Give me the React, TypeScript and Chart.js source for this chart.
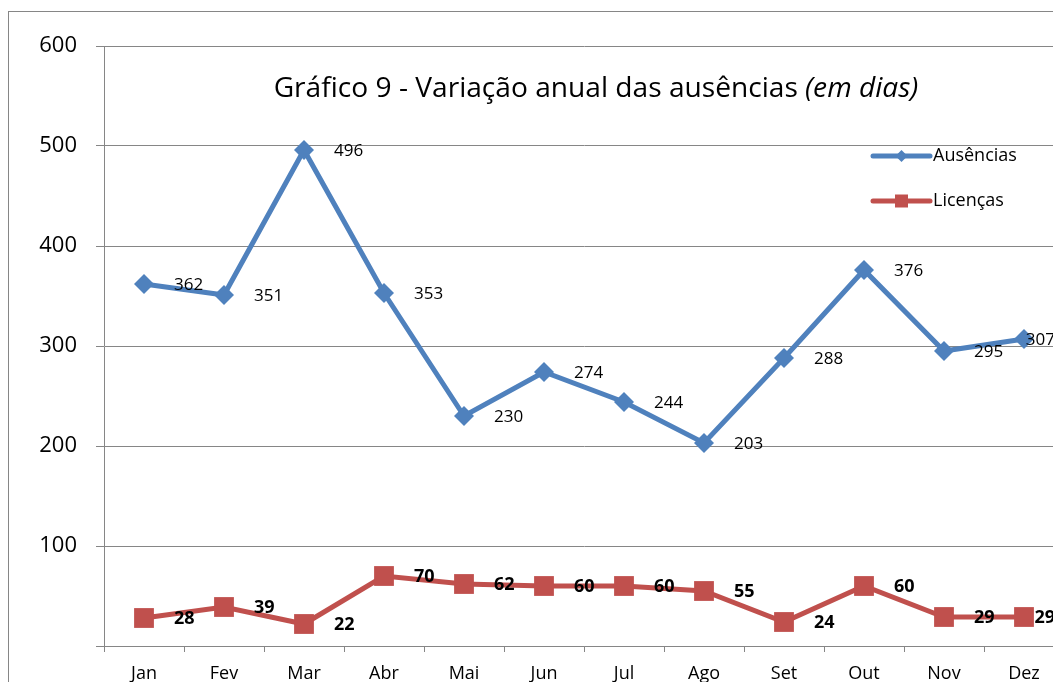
import React, { useEffect, useRef } from 'react';
import { Chart, registerables } from 'chart.js';

Chart.register(...registerables);

const months = ['Jan', 'Fev', 'Mar', 'Abr', 'Mai', 'Jun', 'Jul', 'Ago', 'Set', 'Out', 'Nov', 'Dez'];
const ausencias = [362, 351, 496, 353, 230, 274, 244, 203, 288, 376, 295, 307];
const licencas = [28, 39, 22, 70, 62, 60, 60, 55, 24, 60, 29, 29];
const seriesNames = ['Ausências', 'Licenças'];
const yMin = 0;
const yMax = 600;
const yStep = 100;
const titleMain = 'Gráfico 9 - Variação anual das ausências ';
const titleItalic = '(em dias)';

const FONT = '"Open Sans", "Noto Sans", sans-serif';
const BLUE = '#4F81BD';
const RED = '#C0504D';
const GRID = '#868686';

const titlePlugin = {
  id: 'customTitle',
  afterDraw(chart: any) {
    const { ctx, chartArea } = chart;
    ctx.save();
    let size = 26;
    const measure = (s: number) => {
      ctx.font = `${s}px ${FONT}`;
      const a = ctx.measureText(titleMain).width;
      ctx.font = `italic ${s}px ${FONT}`;
      const b = ctx.measureText(titleItalic).width;
      return [a, b];
    };
    let [w1, w2] = measure(size);
    size = size * 645 / (w1 + w2);
    [w1, w2] = measure(size);
    const cx = chartArea.left + chartArea.width * 0.5125;
    const x0 = cx - (w1 + w2) / 2;
    const y = chartArea.top + 51;
    ctx.fillStyle = '#000';
    ctx.textBaseline = 'alphabetic';
    ctx.textAlign = 'left';
    ctx.font = `${size}px ${FONT}`;
    ctx.fillText(titleMain, x0, y);
    ctx.font = `italic ${size}px ${FONT}`;
    ctx.fillText(titleItalic, x0 + w1, y);
    ctx.restore();
  },
};

const legendPlugin = {
  id: 'customLegend',
  afterDraw(chart: any) {
    const { ctx, chartArea } = chart;
    ctx.save();
    const x0 = chartArea.left + 769;
    const x1 = x0 + 57;
    const rows = [
      { y: chartArea.top + 110, color: BLUE, shape: 'diamond', label: seriesNames[0] },
      { y: chartArea.top + 155, color: RED, shape: 'square', label: seriesNames[1] },
    ];
    rows.forEach((r) => {
      ctx.strokeStyle = r.color;
      ctx.lineWidth = 5;
      ctx.lineCap = 'round';
      ctx.beginPath();
      ctx.moveTo(x0, r.y);
      ctx.lineTo(x1, r.y);
      ctx.stroke();
      ctx.fillStyle = r.color;
      const cx = (x0 + x1) / 2;
      ctx.beginPath();
      if (r.shape === 'diamond') {
        const s = 6;
        ctx.moveTo(cx - s, r.y);
        ctx.lineTo(cx, r.y - s);
        ctx.lineTo(cx + s, r.y);
        ctx.lineTo(cx, r.y + s);
        ctx.closePath();
      } else {
        ctx.rect(cx - 6.5, r.y - 6.5, 13, 13);
      }
      ctx.fill();
      ctx.fillStyle = '#000';
      ctx.font = `18px ${FONT}`;
      ctx.textBaseline = 'middle';
      ctx.textAlign = 'left';
      ctx.fillText(r.label, x1 + 3, r.y);
    });
    ctx.restore();
  },
};

const labelsPlugin = {
  id: 'pointLabels',
  afterDatasetsDraw(chart: any) {
    const { ctx, chartArea } = chart;
    ctx.save();
    ctx.fillStyle = '#000';
    ctx.textBaseline = 'middle';
    ctx.textAlign = 'left';
    const limit = chartArea.right - 9;
    chart.data.datasets.forEach((ds: any, i: number) => {
      const meta = chart.getDatasetMeta(i);
      ctx.font = i === 0 ? `17px ${FONT}` : `bold 18px ${FONT}`;
      meta.data.forEach((pt: any, j: number) => {
        const txt = String(ds.data[j]);
        const w = ctx.measureText(txt).width;
        const x = Math.min(pt.x + 30, limit - w);
        ctx.fillText(txt, x, pt.y + 1);
      });
    });
    ctx.restore();
  },
};

export default function App() {
  const ref = useRef<HTMLCanvasElement>(null);

  useEffect(() => {
    if (!ref.current) return;
    const chart = new Chart(ref.current, {
      type: 'line',
      data: {
        labels: months,
        datasets: [
          {
            label: seriesNames[0],
            data: ausencias,
            borderColor: BLUE,
            backgroundColor: BLUE,
            borderWidth: 5,
            pointStyle: 'rectRot',
            pointRadius: 10,
            pointBorderWidth: 0,
            tension: 0,
          },
          {
            label: seriesNames[1],
            data: licencas,
            borderColor: RED,
            backgroundColor: RED,
            borderWidth: 5,
            pointStyle: 'rect',
            pointRadius: 14,
            pointBorderWidth: 0,
            tension: 0,
          },
        ],
      },
      options: {
        responsive: false,
        animation: false,
        layout: { padding: { top: 34, right: 20, left: 0, bottom: 0 } },
        plugins: {
          legend: { display: false },
          title: { display: false },
          tooltip: { enabled: false },
        },
        scales: {
          x: {
            offset: true,
            grid: {
              display: true,
              drawOnChartArea: false,
              drawTicks: true,
              tickLength: 6,
              color: GRID,
              offset: true,
            },
            border: { display: true, color: GRID, width: 1 },
            ticks: {
              color: '#000',
              font: { family: FONT, size: 18 },
              padding: 11,
              maxRotation: 0,
              autoSkip: false,
            },
            afterFit: (s: any) => {
              s.height = 66;
            },
          },
          y: {
            min: yMin,
            max: yMax,
            grid: { color: GRID, tickLength: 8, drawTicks: true },
            border: { display: true, color: GRID, width: 1 },
            ticks: {
              stepSize: yStep,
              color: '#000',
              font: { family: FONT, size: 22 },
              padding: 19,
              callback: (v: any) => (v === 0 ? '' : String(v)),
            },
            afterFit: (s: any) => {
              s.width = 95;
            },
          },
        },
      },
      plugins: [labelsPlugin, titlePlugin, legendPlugin],
    });
    return () => chart.destroy();
  }, []);

  return (
    <div
      style={{
        position: 'fixed',
        left: 8,
        top: 11,
        width: 1100,
        height: 720,
        border: `1px solid ${GRID}`,
        background: '#fff',
        overflow: 'hidden',
      }}
    >
      <canvas ref={ref} width={1075} height={700} style={{ display: 'block', width: 1075, height: 700 }} />
    </div>
  );
}
